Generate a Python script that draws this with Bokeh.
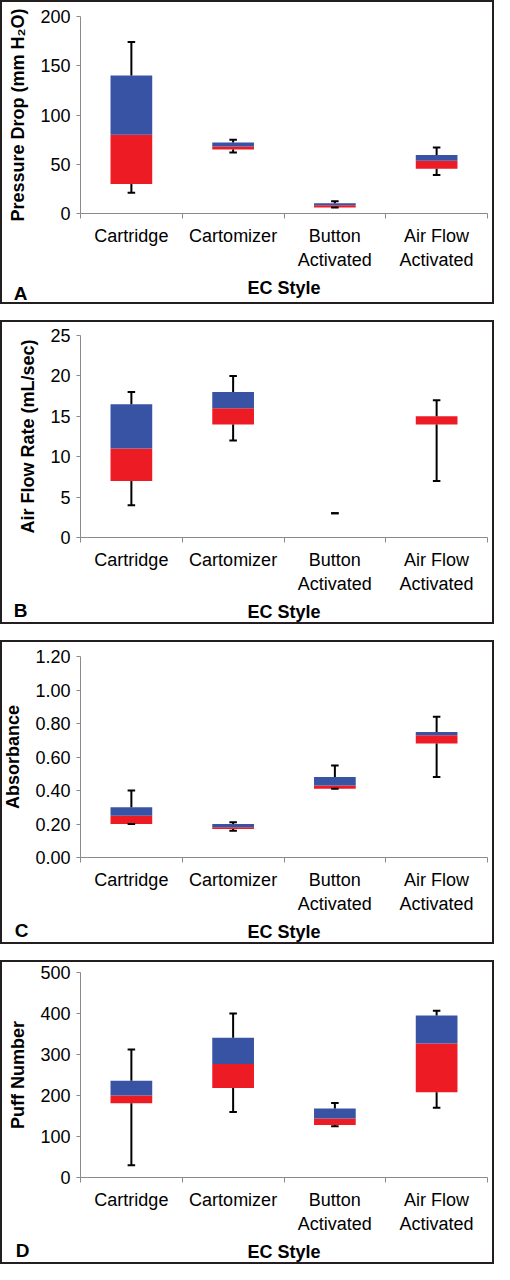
from bokeh.plotting import figure
from bokeh.layouts import column
from bokeh.models import Range1d, FixedTicker, NumeralTickFormatter, LinearAxis
from bokeh.embed import file_html
from bokeh.resources import INLINE

# ---------------- data ----------------
categories = ["Cartridge", "Cartomizer", "Button\nActivated", "Air Flow\nActivated"]

# A: Pressure drop (mm H2O)
pd_min = [21, 62, 6, 39]
pd_q1 = [30, 65, 6, 45.5]
pd_med = [80, 68, 8.5, 53.5]
pd_q3 = [140, 72, 10.5, 59.5]
pd_max = [174, 75, 12.5, 67]

# B: Air flow rate (mL/sec)
af_min = [4, 12, 3, 7]
af_q1 = [7, 14, 3, 14]
af_med = [11, 16, 3, 15]
af_q3 = [16.5, 18, 3, 15]
af_max = [18, 20, 3, 17]

# C: Absorbance
ab_min = [0.20, 0.16, 0.41, 0.48]
ab_q1 = [0.20, 0.17, 0.41, 0.68]
ab_med = [0.25, 0.18, 0.43, 0.73]
ab_q3 = [0.30, 0.20, 0.48, 0.75]
ab_max = [0.40, 0.21, 0.55, 0.84]

# D: Puff number
pn_min = [30, 160, 125, 170]
pn_q1 = [181, 218, 128, 208]
pn_med = [200, 277, 144, 327]
pn_q3 = [236, 341, 168, 395]
pn_max = [312, 400, 182, 407]

FONT = "Liberation Sans"
RED = "#ED1C24"
BLUE = "#3953A4"
AXIS = "#8a8a8a"
FS = "18px"
W, H = 494, 304


def panel(letter, ylabel, ymax, ystep, fmt, mins, q1s, meds, q3s, maxs,
          left, top, bottom, letter_standoff):
    n = len(categories)
    xs = [i + 0.5 for i in range(n)]
    p = figure(width=W, height=H, output_backend="svg", toolbar_location=None,
               x_range=Range1d(0, n), y_range=Range1d(0, ymax),
               min_border_left=left, min_border_top=top,
               min_border_bottom=bottom, min_border_right=7)
    p.background_fill_color = None
    p.border_fill_color = None
    p.outline_line_color = None
    p.xgrid.visible = False
    p.ygrid.visible = False

    p.vbar(x=xs, bottom=q1s, top=meds, width=0.41, fill_color=RED, line_color=None)
    p.vbar(x=xs, bottom=meds, top=q3s, width=0.41, fill_color=BLUE, line_color=None)
    p.segment(x0=xs, y0=mins, x1=xs, y1=q1s, line_color="black", line_width=2)
    p.segment(x0=xs, y0=q3s, x1=xs, y1=maxs, line_color="black", line_width=2)
    cw = 0.037
    p.segment(x0=[x - cw for x in xs], y0=mins, x1=[x + cw for x in xs], y1=mins,
              line_color="black", line_width=2)
    p.segment(x0=[x - cw for x in xs], y0=maxs, x1=[x + cw for x in xs], y1=maxs,
              line_color="black", line_width=2)

    nt = int(round(ymax / ystep))
    p.yaxis.ticker = FixedTicker(ticks=[round(i * ystep, 6) for i in range(nt + 1)])
    if fmt:
        p.yaxis.formatter = NumeralTickFormatter(format=fmt)
    p.yaxis.axis_label = ylabel
    p.yaxis.minor_tick_line_color = None
    p.yaxis.major_tick_in = 0
    p.yaxis.major_tick_out = 4
    p.yaxis.major_label_standoff = 6
    p.yaxis.axis_label_standoff = 9

    p.xaxis.ticker = FixedTicker(ticks=xs, minor_ticks=list(range(n + 1)))
    p.xaxis.major_label_overrides = {x: c for x, c in zip(xs, categories)}
    p.xaxis.minor_tick_in = 0
    p.xaxis.minor_tick_out = 5
    p.xaxis.minor_tick_line_color = AXIS
    p.xaxis.major_label_standoff = 6
    p.xaxis.axis_label = "EC Style"
    p.xaxis.axis_label_standoff = 5

    for ax in (p.xaxis[0], p.yaxis[0]):
        ax.axis_line_color = AXIS
        ax.major_label_text_font = FONT
        ax.major_label_text_font_size = FS
        ax.major_label_text_color = "black"
        ax.axis_label_text_font = FONT
        ax.axis_label_text_font_size = FS
        ax.axis_label_text_font_style = "bold"
        ax.axis_label_text_color = "black"
    p.yaxis.major_tick_line_color = AXIS
    p.xaxis.major_tick_line_color = None

    # panel letter: an outer left axis whose only tick label is the letter,
    # pushed down to the "EC Style" line by blank lines
    lax = LinearAxis(ticker=FixedTicker(ticks=[0]),
                     major_label_overrides={0: "\u00a0\n" * 6 + letter},
                     axis_line_color=None, major_tick_line_color=None,
                     minor_tick_line_color=None, major_tick_out=0, major_tick_in=0,
                     major_label_standoff=letter_standoff,
                     major_label_text_font=FONT, major_label_text_font_size="19px",
                     major_label_text_font_style="bold",
                     major_label_text_color="black",
                     major_label_text_line_height=1.27)
    p.add_layout(lax, "left")
    p.styles = {"outline": "2px solid #231f20", "outline-offset": "-2px"}
    return p


pa = panel("A", "Pressure Drop (mm H\u2082O)", 200, 50, None,
           pd_min, pd_q1, pd_med, pd_q3, pd_max, 79, 16, 91, -22)
pb = panel("B", "Air Flow Rate (mL/sec)", 25, 5, None,
           af_min, af_q1, af_med, af_q3, af_max, 70, 15, 83, -12)
pc = panel("C", "Absorbance", 1.2, 0.2, "0.00",
           ab_min, ab_q1, ab_med, ab_q3, ab_max, 80, 16, 85, -28)
pdn = panel("D", "Puff Number", 500, 100, None,
            pn_min, pn_q1, pn_med, pn_q3, pn_max, 75, 12, 84, -24)

layout = column(pa, pb, pc, pdn, spacing=16)
open("out.html", "w").write(file_html(layout, INLINE))
